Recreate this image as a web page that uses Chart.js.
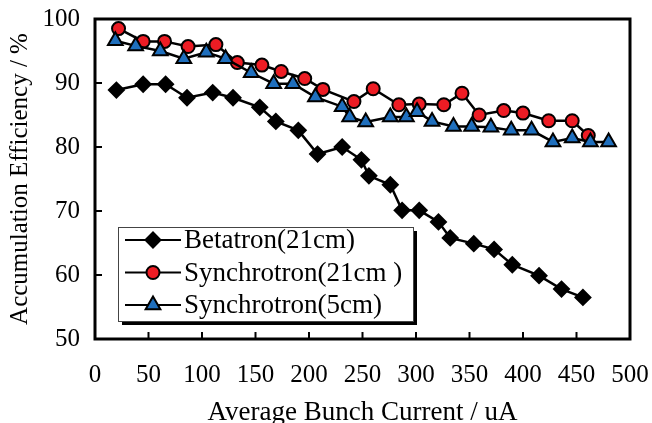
<!DOCTYPE html>
<html>
<head>
<meta charset="utf-8">
<script src="https://cdn.jsdelivr.net/npm/chart.js@4"></script>
<style>
  html, body { margin: 0; padding: 0; background: #fff; }
  #wrap { width: 652px; height: 423px; }
</style>
</head>
<body>
<div id="wrap"><canvas id="chart"></canvas></div>
<script>
// 데이터: 그림에서 읽은 값
var betatronX = [20, 45, 66, 86, 110, 129, 154, 169, 190, 208, 231, 249, 256, 276, 287, 303, 321, 332, 354, 373, 390, 415, 436, 456];
var betatronY = [88.9, 89.8, 89.8, 87.7, 88.5, 87.7, 86.2, 84.0, 82.6, 78.9, 80.0, 78.0, 75.5, 74.1, 70.1, 70.1, 68.3, 65.8, 64.9, 64.0, 61.6, 59.9, 57.8, 56.5];

var synchro21X = [22, 45, 65, 87, 113, 133, 156, 174, 196, 213, 242, 260, 284, 303, 326, 343, 359, 382, 400, 424, 446, 461];
var synchro21Y = [98.5, 96.5, 96.5, 95.7, 96.0, 93.2, 92.8, 91.8, 90.7, 89.0, 87.1, 89.1, 86.6, 86.7, 86.6, 88.4, 85.0, 85.7, 85.3, 84.1, 84.1, 81.8];

var synchro5X = [19, 38, 61, 83, 104, 122, 146, 167, 185, 206, 231, 238, 253, 276, 291, 301, 315, 335, 352, 370, 389, 408, 428, 446, 463, 480];
var synchro5Y = [96.6, 95.8, 95.0, 93.8, 94.8, 93.8, 91.6, 89.9, 89.9, 87.8, 86.3, 84.7, 83.9, 84.7, 84.7, 85.5, 84.0, 83.2, 83.2, 83.1, 82.6, 82.6, 80.8, 81.4, 80.8, 80.8];

var seriesNames = ["Betatron(21cm)", "Synchrotron(21cm )", "Synchrotron(5cm)"];
var xTicks = [0, 50, 100, 150, 200, 250, 300, 350, 400, 450, 500];
var yTicks = [50, 60, 70, 80, 90, 100];

var serif = "'Liberation Serif', 'DejaVu Serif', serif";

function toPoints(xs, ys) {
    var pts = [];
    for (var i = 0; i < xs.length; i++) {
        pts.push({x: xs[i], y: ys[i]});
    }
    return pts;
}

var styles = [
    {pointStyle: 'rectRot', radius: 7.5, bg: '#000000'},
    {pointStyle: 'circle', radius: 6.5, bg: '#ed1c24'},
    {pointStyle: 'triangle', radius: 8.5, bg: '#1f6fbd'}
];

// 테두리, 안쪽 눈금, 범례를 직접 그림
var framePlugin = {
    id: 'frame',
    afterDatasetsDraw: function(chart) {
        var ctx = chart.ctx;
        var a = chart.chartArea;
        var xs = chart.scales.x, ys = chart.scales.y;
        ctx.save();
        ctx.strokeStyle = '#000';
        ctx.lineWidth = 2;
        xTicks.forEach(function(v) {
            if (v == 0 || v == 500) return;
            var px = xs.getPixelForValue(v);
            ctx.beginPath();
            ctx.moveTo(px, a.bottom);
            ctx.lineTo(px, a.bottom - 7);
            ctx.stroke();
        });
        yTicks.forEach(function(v) {
            if (v == 50 || v == 100) return;
            var py = ys.getPixelForValue(v);
            ctx.beginPath();
            ctx.moveTo(a.left, py);
            ctx.lineTo(a.left + 7, py);
            ctx.stroke();
        });
        ctx.lineWidth = 3;
        ctx.strokeRect(a.left, a.top, a.right - a.left, a.bottom - a.top);

        // 범례
        var lx = 118, ly = 227, lw = 295, lh = 94;
        ctx.fillStyle = '#000';
        ctx.fillRect(lx + 4, ly + 4, lw, lh);
        ctx.fillStyle = '#fff';
        ctx.fillRect(lx, ly, lw, lh);
        ctx.lineWidth = 1;
        ctx.strokeStyle = '#444';
        ctx.strokeRect(lx + 0.5, ly + 0.5, lw, lh);
        ctx.font = '27px ' + serif;
        ctx.textBaseline = 'middle';
        for (var i = 0; i < 3; i++) {
            var ry = 240 + i * 32.5;
            ctx.strokeStyle = '#000';
            ctx.lineWidth = 2;
            ctx.beginPath();
            ctx.moveTo(125, ry);
            ctx.lineTo(181, ry);
            ctx.stroke();
            ctx.fillStyle = styles[i].bg;
            Chart.helpers.drawPoint(ctx, {
                pointStyle: styles[i].pointStyle,
                radius: styles[i].radius,
                borderWidth: 2,
                rotation: 0
            }, 153, ry);
            ctx.fillStyle = '#000';
            ctx.fillText(seriesNames[i], 184, ry + 1);
        }
        ctx.restore();
    }
};

var datasets = [
    {label: seriesNames[0], data: toPoints(betatronX, betatronY), order: 2},
    {label: seriesNames[1], data: toPoints(synchro21X, synchro21Y), order: 1},
    {label: seriesNames[2], data: toPoints(synchro5X, synchro5Y), order: 0}
];
datasets.forEach(function(ds, i) {
    ds.showLine = true;
    ds.borderColor = '#000';
    ds.borderWidth = 2.5;
    ds.pointStyle = styles[i].pointStyle;
    ds.pointRadius = styles[i].radius;
    ds.pointBackgroundColor = styles[i].bg;
    ds.pointBorderColor = '#000';
    ds.pointBorderWidth = 2;
    ds.tension = 0;
});

new Chart(document.getElementById('chart'), {
    type: 'scatter',
    data: {datasets: datasets},
    options: {
        responsive: true,
        maintainAspectRatio: false,
        animation: false,
        layout: {padding: {top: 19, right: 22, left: 0, bottom: 0}},
        plugins: {legend: {display: false}, tooltip: {enabled: false}},
        scales: {
            x: {
                type: 'linear',
                min: 0, max: 500,
                afterBuildTicks: function(s) { s.ticks = xTicks.map(function(v) { return {value: v}; }); },
                afterFit: function(s) { s.height = 84; },
                // 눈금선은 플러그인에서 안쪽으로 그림; tickLength는 라벨 간격용
                grid: {display: false, drawTicks: true, tickLength: 24},
                border: {display: false},
                ticks: {color: '#000', padding: 0, maxRotation: 0, font: {family: serif, size: 25, lineHeight: 1}},
                title: {display: true, text: 'Average Bunch Current / uA', color: '#000',
                        font: {family: serif, size: 27, lineHeight: 1}, padding: {top: 0, bottom: -3}}
            },
            y: {
                type: 'linear',
                min: 50, max: 100,
                afterBuildTicks: function(s) { s.ticks = yTicks.map(function(v) { return {value: v}; }); },
                afterFit: function(s) { s.width = 95; },
                grid: {display: false, drawTicks: true, tickLength: 15},
                border: {display: false},
                ticks: {color: '#000', padding: 0, font: {family: serif, size: 25, lineHeight: 1}},
                title: {display: true, text: 'Accumulation Efficiency / %', color: '#000',
                        font: {family: serif, size: 25, lineHeight: 1}, padding: {top: 8, bottom: 0}}
            }
        }
    },
    plugins: [framePlugin]
});
</script>
</body>
</html>
